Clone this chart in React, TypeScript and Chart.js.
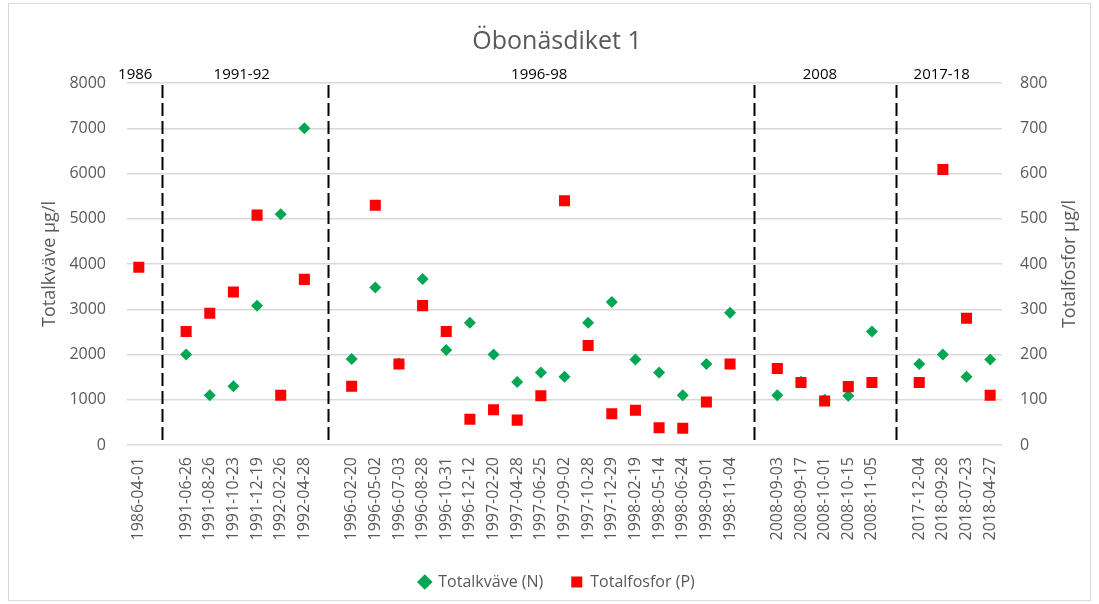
import React, { useEffect, useRef } from "react";
import { Chart, registerables } from "chart.js";

Chart.register(...registerables);

// ---------- data ----------
const CATEGORIES: string[] = [
  "1986-04-01", "",
  "1991-06-26", "1991-08-26", "1991-10-23", "1991-12-19", "1992-02-26", "1992-04-28", "",
  "1996-02-20", "1996-05-02", "1996-07-03", "1996-08-28", "1996-10-31", "1996-12-12",
  "1997-02-20", "1997-04-28", "1997-06-25", "1997-09-02", "1997-10-28", "1997-12-29",
  "1998-02-19", "1998-05-14", "1998-06-24", "1998-09-01", "1998-11-04", "",
  "2008-09-03", "2008-09-17", "2008-10-01", "2008-10-15", "2008-11-05", "",
  "2017-12-04", "2018-09-28", "2018-07-23", "2018-04-27",
];

const KVAVE_N: (number | null)[] = [
  null, null,
  2000, 1100, 1300, 3080, 5100, 7000, null,
  1900, 3480, 1800, 3670, 2100, 2700,
  2000, 1390, 1600, 1510, 2700, 3160,
  1890, 1600, 1100, 1790, 2920, null,
  1100, 1400, 1000, 1090, 2510, null,
  1790, 2000, 1510, 1890,
];

const FOSFOR_P: (number | null)[] = [
  393, null,
  251, 291, 338, 508, 110, 366, null,
  130, 530, 179, 308, 251, 57,
  78, 55, 109, 540, 220, 69,
  77, 38, 37, 95, 179, null,
  169, 138, 97, 129, 138, null,
  138, 609, 280, 110,
];

const PERIOD_LABELS: string[] = ["1986", "1991-92", "1996-98", "2008", "2017-18"];

const LEFT_TICKS_MAX = 8000;
const RIGHT_TICKS_MAX = 800;

const TITLE = "Öbonäsdiket 1";
const LEFT_AXIS_TITLE = "Totalkväve µg/l";
const RIGHT_AXIS_TITLE = "Totalfosfor µg/l";
const SERIES_NAMES = ["Totalkväve (N)", "Totalfosfor (P)"];

// ---------- layout / style constants ----------
const FONT = "'Open Sans', 'Noto Sans', sans-serif";
const GREY = "#595959";
const GREEN = "#00a651";
const RED = "#ff0000";
const PERIOD_SHIFT = [-0.15, -0.15, -0.07, -0.2, -0.55]; // in category units

const overlayPlugin = {
  id: "overlay",
  beforeDatasetsDraw(chart: any) {
    const { ctx, chartArea, scales } = chart;
    const x = scales.x;
    ctx.save();
    ctx.strokeStyle = "#000";
    ctx.lineWidth = 2;
    ctx.setLineDash([13, 5]);
    CATEGORIES.forEach((c, i) => {
      if (c === "") {
        const px = Math.round(x.getPixelForValue(i)) + 0.5;
        ctx.beginPath();
        ctx.moveTo(px, chartArea.top + 2);
        ctx.lineTo(px, chartArea.bottom - 2);
        ctx.stroke();
      }
    });
    ctx.restore();
  },
  afterDraw(chart: any) {
    const { ctx, chartArea, scales } = chart;
    const x = scales.x;
    ctx.save();
    // period labels
    const groups: number[][] = [];
    let cur: number[] = [];
    CATEGORIES.forEach((c, i) => {
      if (c === "") {
        if (cur.length) groups.push(cur);
        cur = [];
      } else cur.push(i);
    });
    if (cur.length) groups.push(cur);
    ctx.fillStyle = "#000";
    ctx.font = `15px ${FONT}`;
    ctx.textAlign = "center";
    ctx.textBaseline = "middle";
    groups.forEach((g, gi) => {
      const mid = (g[0] + g[g.length - 1]) / 2 + (PERIOD_SHIFT[gi] || 0);
      const a = x.getPixelForValue(Math.floor(mid));
      const b = x.getPixelForValue(Math.floor(mid) + 1);
      const px = a + (b - a) * (mid - Math.floor(mid));
      ctx.fillText(PERIOD_LABELS[gi] ?? "", px, chartArea.top - 8);
    });
    // axis titles (both read bottom-to-top)
    const cy = (chartArea.top + chartArea.bottom) / 2;
    ctx.fillStyle = GREY;
    ctx.font = `18px ${FONT}`;
    ctx.save();
    ctx.translate(26, cy);
    ctx.rotate(-Math.PI / 2);
    ctx.fillText(LEFT_AXIS_TITLE, 0, 0);
    ctx.restore();
    ctx.save();
    ctx.translate(chart.width - 20, cy);
    ctx.rotate(-Math.PI / 2);
    ctx.fillText(RIGHT_AXIS_TITLE, 0, 0);
    ctx.restore();
    ctx.restore();
  },
};

export default function App() {
  const ref = useRef<HTMLCanvasElement | null>(null);

  useEffect(() => {
    if (!ref.current) return;
    Chart.defaults.font.family = FONT;
    const chart = new Chart(ref.current, {
      type: "line",
      data: {
        labels: CATEGORIES,
        datasets: [
          {
            label: SERIES_NAMES[0],
            data: KVAVE_N,
            yAxisID: "y",
            showLine: false,
            pointStyle: "rectRot",
            pointRadius: 6,
            pointHoverRadius: 6,
            backgroundColor: GREEN,
            borderColor: GREEN,
            pointBorderWidth: 0,
            order: 1,
          },
          {
            label: SERIES_NAMES[1],
            data: FOSFOR_P,
            yAxisID: "y1",
            showLine: false,
            pointStyle: "rect",
            pointRadius: 7.8,
            pointHoverRadius: 7.8,
            backgroundColor: RED,
            borderColor: RED,
            pointBorderWidth: 0,
            order: 0,
          },
        ],
      },
      options: {
        responsive: false,
        animation: false,
        layout: { padding: 0 },
        plugins: {
          title: {
            display: true,
            text: TITLE,
            color: GREY,
            font: { size: 25, weight: "normal" as any },
            padding: { top: 23, bottom: 26 },
          },
          legend: {
            position: "bottom",
            labels: {
              usePointStyle: true,
              boxWidth: 11,
              boxHeight: 11,
              padding: 28,
              color: GREY,
              font: { size: 16 },
              sort: (a: any, b: any) => a.datasetIndex - b.datasetIndex,
            },
          },
          tooltip: { enabled: false },
        },
        scales: {
          x: {
            type: "category",
            offset: true,
            grid: { display: false, drawTicks: false, offset: true },
            border: { display: false },
            ticks: {
              autoSkip: false,
              maxRotation: 90,
              minRotation: 90,
              padding: 12,
              color: GREY,
              font: { size: 16 },
            },
            afterFit: (s: any) => {
              s.height = 101;
            },
          },
          y: {
            position: "left",
            min: 0,
            max: LEFT_TICKS_MAX,
            ticks: {
              stepSize: 1000,
              padding: 21,
              color: GREY,
              font: { size: 16 },
              callback: (v: any) => String(v),
            },
            grid: { color: "#d9d9d9", lineWidth: 1.5, drawTicks: false },
            border: { display: false },
            afterFit: (s: any) => {
              s.width = 103;
            },
          },
          y1: {
            position: "right",
            min: 0,
            max: RIGHT_TICKS_MAX,
            ticks: {
              stepSize: 100,
              padding: 18,
              color: GREY,
              font: { size: 16 },
              callback: (v: any) => String(v),
            },
            grid: { display: false, drawTicks: false },
            border: { display: false },
            afterFit: (s: any) => {
              s.width = 88;
            },
          },
        },
      },
      plugins: [overlayPlugin],
    });
    return () => chart.destroy();
  }, []);

  return (
    <div>
      <div
        style={{
          position: "absolute",
          left: 8,
          top: 3,
          width: 1083,
          height: 598,
          border: "1px solid #d9d9d9",
          boxSizing: "border-box",
        }}
      />
      <canvas
        ref={ref}
        width={1066}
        height={596}
        style={{ position: "absolute", left: 24, top: 4 }}
      />
    </div>
  );
}
